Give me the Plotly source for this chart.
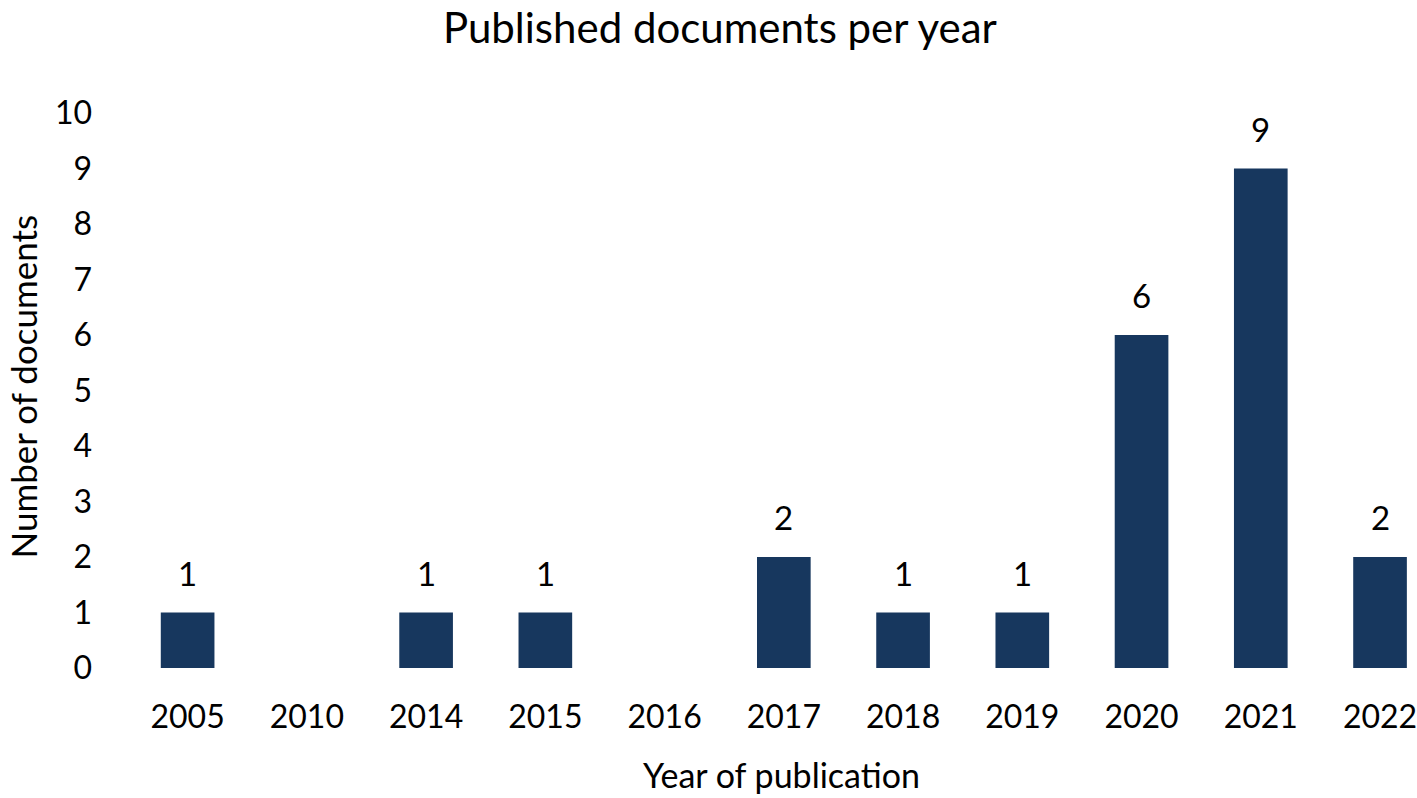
import plotly.graph_objects as go

# Data
years = ["2005", "2010", "2014", "2015", "2016", "2017", "2018", "2019", "2020", "2021", "2022"]
documents = [1, 0, 1, 1, 0, 2, 1, 1, 6, 9, 2]
y_ticks = list(range(0, 11))

bar_color = "#17375E"
font_family = "Lato, Carlito, Calibri, sans-serif"

fig = go.Figure()

fig.add_trace(go.Bar(
    x=years,
    y=documents,
    marker=dict(color=bar_color, line=dict(width=0)),
    width=0.45,
    hoverinfo="x+y",
))

# value labels above the non-zero bars (x by category index)
for i, n in enumerate(documents):
    if n:
        fig.add_annotation(x=i, y=n, text=str(n), showarrow=False,
                           yshift=40, font=dict(size=33, color="black"))

# axis titles
fig.add_annotation(text="Number of documents", xref="paper", yref="paper",
                   x=0, y=0.5, xanchor="center", yanchor="middle",
                   xshift=-106, yshift=4, textangle=-90, showarrow=False,
                   font=dict(size=35))
fig.add_annotation(text="Year of publication", xref="paper", yref="paper",
                   x=0.5, y=0, xanchor="center", yanchor="middle",
                   xshift=9, yshift=-106, showarrow=False,
                   font=dict(size=34))

fig.update_layout(
    width=1417,
    height=798,
    margin=dict(l=128, r=0, t=113, b=130),
    paper_bgcolor="white",
    plot_bgcolor="white",
    font=dict(family=font_family, color="black", size=33),
    title=dict(text="Published documents per year", x=0.508, xanchor="center",
               y=1 - 28 / 798, yanchor="middle", font=dict(size=42)),
    showlegend=False,
    xaxis=dict(
        type="category",
        range=[-0.5, 10.31],
        automargin=False,
        showgrid=False, showline=False, zeroline=False,
        ticks="", ticklabelstandoff=27,
        tickfont=dict(size=32),
    ),
    yaxis=dict(
        range=[0, 10],
        tickvals=y_ticks,
        automargin=False,
        showgrid=False, showline=False, zeroline=False,
        ticks="", ticklabelstandoff=35,
        tickfont=dict(size=32),
    ),
)

# drop the default page margin so the figure fills the window exactly
fig.write_html("out.html", config={"displayModeBar": False},
               post_script="document.body.style.margin='0';")
